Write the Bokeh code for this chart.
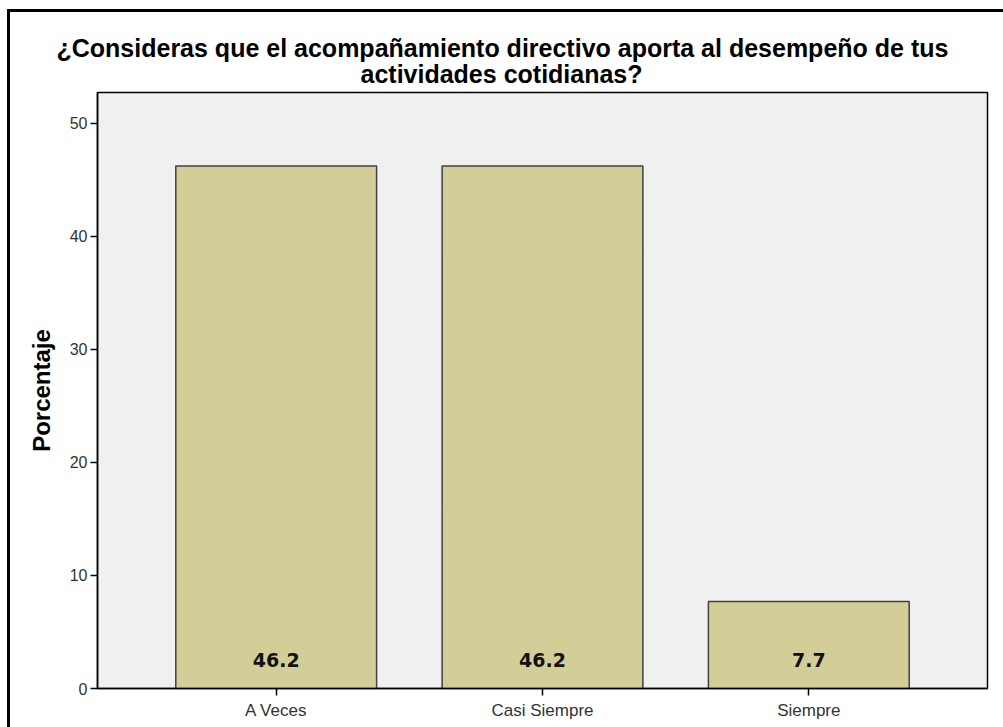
from bokeh.plotting import figure
from bokeh.models import ColumnDataSource, FactorRange, Range1d, FixedTicker, Title
from bokeh.layouts import column
from bokeh.embed import file_html
from bokeh.resources import INLINE
from bokeh.core.properties import value

categories = ["A Veces", "Casi Siempre", "Siempre"]
percentages = [46.2, 46.2, 7.7]
value_labels = ["46.2", "46.2", "7.7"]
y_ticks = [0, 10, 20, 30, 40, 50]
title_line1 = "¿Consideras que el acompañamiento directivo aporta al desempeño de tus"
title_line2 = "actividades cotidianas?"
y_label = "Porcentaje"

src = ColumnDataSource(dict(cat=categories, pct=percentages, lab=value_labels,
                            base=[0] * len(categories)))

p = figure(width=993, height=715, title=None,
           x_range=FactorRange(factors=categories, range_padding=0.171,
                               range_padding_units="absolute"),
           y_range=Range1d(0, 52.7),
           output_backend="svg", toolbar_location=None,
           min_border_left=87, min_border_right=16,
           min_border_top=80, min_border_bottom=39)

def make_title(txt, offset, standoff):
    return Title(text=txt, align="left", offset=offset, standoff=standoff,
                 text_font="Liberation Sans", text_font_size="25px",
                 text_font_style="bold", text_color="black")

# first added sits nearest the frame
p.add_layout(make_title(title_line2, 263, 10), "above")
p.add_layout(make_title(title_line1, -41, -18), "above")

p.background_fill_color = "#f0f0f0"
p.border_fill_color = "white"
p.outline_line_color = "black"
p.outline_line_width = 1.5
p.xgrid.grid_line_color = None
p.ygrid.grid_line_color = None

p.vbar(x="cat", top="pct", width=0.754, source=src,
       fill_color="#d3ce97", line_color="#404040", line_width=1.5)

p.text(x="cat", y="base", text="lab", source=src, y_offset=-29,
       text_align="center", text_baseline="alphabetic",
       text_font=value("DejaVu Sans"), text_font_style="bold",
       text_font_size="19px", text_color="#111111")

for ax in (p.xaxis[0], p.yaxis[0]):
    ax.axis_line_color = "black"
    ax.axis_line_width = 1.5
    ax.major_tick_line_color = "black"
    ax.major_tick_line_width = 1.5
    ax.major_tick_out = 7
    ax.major_tick_in = 0
    ax.minor_tick_line_color = None
    ax.major_label_text_font = "Liberation Sans"
    ax.major_label_text_color = "#333333"

p.yaxis.ticker = FixedTicker(ticks=y_ticks)
p.yaxis.major_label_text_font_size = "16px"
p.yaxis.major_label_standoff = 3
p.yaxis.axis_label = y_label
p.yaxis.axis_label_text_font = "Liberation Sans"
p.yaxis.axis_label_text_font_size = "24px"
p.yaxis.axis_label_text_font_style = "bold"
p.yaxis.axis_label_text_color = "black"
p.yaxis.axis_label_standoff = 12

p.xaxis.major_label_text_font_size = "17px"
p.xaxis.major_label_standoff = 5

lay = column(p, margin=(9, 0, 0, 7),
             styles={"border-top": "3px solid black",
                     "border-left": "3px solid black"})

open("out.html", "w").write(file_html(lay, INLINE))
